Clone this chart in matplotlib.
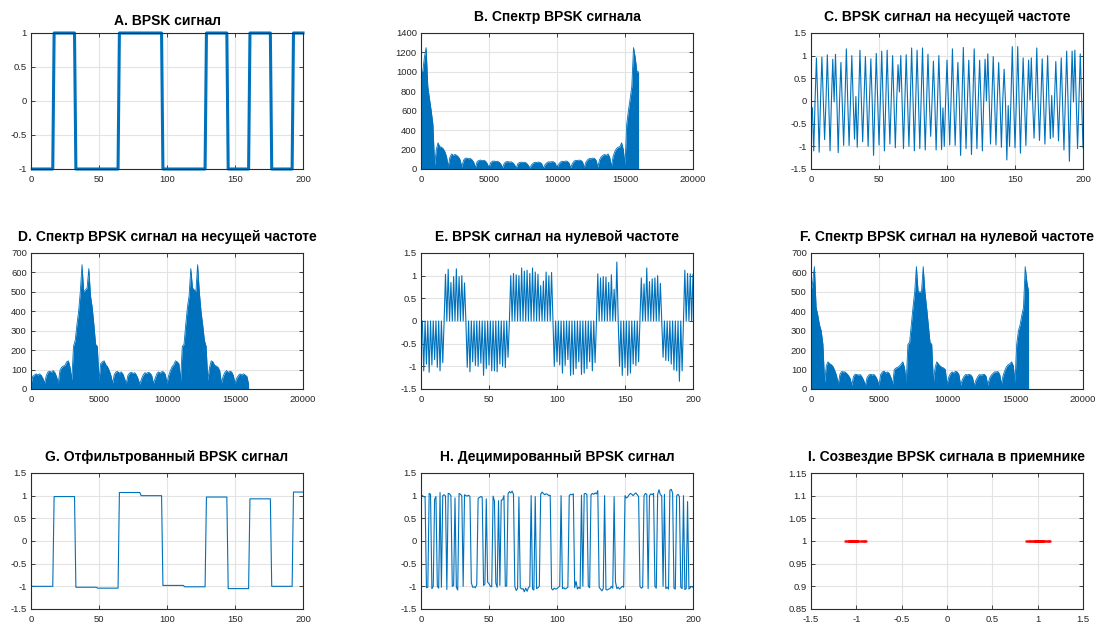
import numpy as np
import matplotlib
matplotlib.use('Agg')
import matplotlib.pyplot as plt
from matplotlib.ticker import FuncFormatter

plt.rcParams['font.family'] = ['Liberation Sans', 'DejaVu Sans']
plt.rcParams['axes.unicode_minus'] = False

BLUE = '#0072BD'

# ---- data ----
# transmitted bits, 16 samples per bit
bits = [-1, 1, -1, -1, 1, 1, -1, -1, 1, -1, 1, -1, 1]
spb = 16

# filtered signal, level per bit
g_levels = [-1.0, 0.98, -1.02, -1.04, 1.07, 1.0, -0.98, -1.01, 0.97, -1.05, 0.93, -1.0, 1.08]

# carrier signal, even samples n=2,4,...,200
c_peaks = [-1.10, 0.95, -1.13, 0.97, -0.85, 1.02, -1.10, 0.92,
           1.03, -1.14, 0.85, -0.98, 1.15, -0.98, 1.00, -0.84,
           -1.02, 1.12, -0.90, 0.98, -1.00, 0.93, -1.20, 1.05,
           -0.97, 1.10, -1.10, 1.12, -0.95, 1.00, -1.03, 0.80,
           1.00, -1.05, 1.02, -1.00, 1.17, -1.10, 1.12, -1.05,
           1.17, -1.08, 1.03, -0.78, 0.88, -1.08, 1.00, -1.07,
           -1.00, 0.90, -0.97, 1.15, -0.98, 0.85, -1.20, 1.18,
           -1.05, 0.90, -1.18, 1.15, -1.05, 0.90, -1.10, 0.92,
           1.04, -0.95, 0.98, -0.97, 0.85, -1.02, 0.70, -1.30,
           -1.00, 1.20, -1.03, 1.20, -1.15, 0.95, -0.98, 0.90,
           0.95, -0.82, 1.17, -0.87, 0.93, -0.95, 1.00, -0.83,
           -0.80, 0.87, -0.88, 0.95, -1.08, 1.10, -1.33, 1.10,
           1.12, -1.05, 1.04, -1.03]
# carrier signal, odd samples n=1,3,...,199
c_odd = [-0.15, 0.02, -0.03, 0.01, 0.04, -0.02, 0.03, -0.01,
         -0.02, 0.03, 0.01, -0.04, 0.02, 0.00, -0.03, 0.02,
         0.10, -0.02, 0.03, 0.01, -0.03, 0.02, 0.00, -0.02,
         0.03, -0.01, 0.02, -0.03, 0.01, 0.02, -0.02, 0.01,
         0.20, -0.01, 0.02, -0.03, 0.01, 0.03, -0.02, 0.00,
         0.02, -0.03, 0.01, 0.02, -0.01, 0.03, -0.02, 0.01,
         -0.15, 0.02, -0.01, 0.03, -0.02, 0.01, 0.02, -0.03,
         0.01, -0.02, 0.03, 0.00, -0.01, 0.02, -0.03, 0.01,
         0.00, 0.02, -0.02, 0.01, 0.03, -0.01, 0.02, -0.03,
         -0.10, 0.01, 0.02, -0.02, 0.03, -0.01, 0.00, 0.02,
         0.02, -0.03, 0.01, 0.02, -0.02, 0.01, 0.03, -0.01,
         0.12, -0.02, 0.01, 0.03, -0.03, 0.02, -0.01, 0.01,
         -0.02, 0.03, -0.01, 0.02]
# signal moved to zero frequency, even samples (odd samples are zero)
e_peaks = [-1.10, -0.95, -1.13, -0.97, -0.85, -1.02, -1.10, -0.92,
           1.03, 1.14, 0.85, 0.98, 1.15, 0.98, 1.00, 0.84,
           -1.02, -1.12, -0.90, -0.98, -1.00, -0.93, -1.20, -1.05,
           -0.97, -1.10, -1.10, -1.12, -0.95, -1.00, -1.03, -0.80,
           1.00, 1.05, 1.02, 1.00, 1.17, 1.10, 1.12, 1.05,
           1.17, 1.08, 1.03, 0.78, 0.88, 1.08, 1.00, 1.07,
           -1.00, -0.90, -0.97, -1.15, -0.98, -0.85, -1.20, -1.18,
           -1.05, -0.90, -1.18, -1.15, -1.05, -0.90, -1.10, -0.92,
           1.04, 0.95, 0.98, 0.97, 0.85, 1.02, 0.70, 1.30,
           -1.00, -1.20, -1.03, -1.20, -1.15, -0.95, -0.98, -0.90,
           0.95, 0.82, 1.17, 0.87, 0.93, 0.95, 1.00, 0.83,
           -0.80, -0.87, -0.88, -0.95, -1.08, -1.10, -1.33, -1.10,
           1.12, 1.05, 1.04, 1.03]

# decimated signal (200 symbols)
h_vals = [1.00, 0.98, 0.97, -1.03, -1.02, 1.05, 1.03, -1.05, -1.00, 0.92,
          0.98, -1.00, -1.04, 1.07, -1.02, 1.00, 1.02, 0.99, -1.07, 1.05,
          1.04, 1.00, -1.00, -0.98, 0.95, -1.02, -1.08, 1.05, 1.03, 1.00,
          -1.00, 1.02, 1.00, 0.99, 1.01, 0.98, -0.92, -1.02, -1.01, -1.03,
          -0.96, 0.94, 0.96, 0.98, 0.97, -0.98, -0.95, 0.93, -0.91, -0.94,
          -1.00, -1.01, 0.99, 0.88, -0.93, -1.02, 0.89, -0.98, 0.90, 0.91,
          1.00, -1.00, -0.99, 1.04, 1.09, 1.06, 1.10, 1.03, -1.00, -1.09,
          -1.05, 0.97, -1.03, -1.06, -1.05, -1.12, -1.04, -1.11, -1.03, -1.00,
          1.00, -1.06, -1.08, 0.98, -1.05, -1.03, -1.00, 1.03, 1.08, 1.05,
          1.02, 1.04, 1.03, 1.00, 1.01, -1.05, -1.08, -1.04, -1.06, -1.05,
          -1.02, -1.00, 1.00, -1.05, -1.03, -1.06, -1.04, -1.02, 1.00, 1.03,
          1.02, 1.04, -1.03, -0.89, -1.06, -1.02, -1.05, 1.01, -1.00, 1.04,
          1.05, 1.02, -1.00, -1.03, 1.02, 1.05, 1.03, 1.06, 1.04, 1.11,
          -1.02, -1.06, -1.10, -1.05, 1.00, -1.07, -1.08, -1.06, -1.05, -1.00,
          -1.04, 0.98, -0.90, -1.05, -1.02, -1.06, -1.03, -1.00, -1.02, 1.00,
          0.95, 0.97, 1.02, 1.05, 1.03, 1.00, 1.04, 1.06, 1.02, 0.98,
          -1.00, -1.04, -1.02, 1.00, 1.05, 1.03, -1.05, 1.00, 1.04, 1.02,
          1.05, -1.00, -1.04, 1.03, 1.13, 1.02, 1.00, -1.00, 1.03, -1.05,
          -1.02, -1.06, 1.12, 1.14, 1.06, -1.04, -1.06, 1.00, 1.03, 0.98,
          -1.02, -1.05, 1.00, -1.07, -1.05, 0.87, -1.06, -1.03, -1.00, -1.02]

# spectrum envelopes, bins 0..8000 step 125 (spectra are mirror symmetric about 8000)
spec_step = 125
spec_b = [1000, 1000, 1150, 1250, 850, 720, 600, 460, 40,
          200, 270, 230, 225, 210, 180, 130, 25,
          120, 155, 140, 150, 140, 125, 95, 20,
          90, 110, 112, 105, 108, 95, 70, 15,
          75, 88, 92, 86, 90, 80, 55, 12,
          65, 80, 82, 76, 80, 70, 50, 12,
          60, 74, 76, 72, 74, 64, 45, 10,
          55, 68, 71, 67, 70, 60, 42, 10]
spec_d = [25, 65, 72, 78, 72, 78, 70, 55, 30,
          70, 88, 92, 85, 95, 85, 65, 30,
          95, 112, 118, 122, 140, 145, 110, 45,
          220, 250, 330, 400, 500, 640, 500, 510,
          520, 620, 480, 420, 330, 230, 220, 45,
          130, 140, 145, 125, 115, 95, 70, 30,
          75, 88, 90, 82, 88, 78, 55, 28,
          70, 82, 86, 80, 84, 72, 52, 25]
spec_f = [500, 550, 630, 420, 380, 330, 300, 230, 35,
          120, 140, 130, 125, 115, 95, 70, 25,
          75, 90, 88, 88, 80, 70, 55, 20,
          65, 76, 74, 72, 74, 62, 45, 18,
          60, 72, 76, 72, 75, 65, 48, 20,
          75, 88, 92, 82, 88, 80, 60, 25,
          100, 108, 112, 118, 128, 140, 110, 35,
          230, 240, 330, 420, 500, 630, 500, 500]


# ---- build signals ----
n = np.arange(1, 201)
sig_a = np.repeat(bits, spb)[:200]
sig_g = np.repeat(g_levels, spb)[:200]
sig_c = np.zeros(200)
sig_c[1::2] = c_peaks
sig_c[0::2] = c_odd
sig_e = np.zeros(200)
sig_e[1::2] = e_peaks
sig_h = np.array(h_vals)


def full_spec(half):
    half = np.array(half, dtype=float)
    xh = np.arange(len(half)) * spec_step
    x = np.concatenate([xh, 2 * xh[-1] - xh[::-1][1:]])
    y = np.concatenate([half, half[::-1][1:]])
    return x, y


W, H = 1110, 624
fig = plt.figure(figsize=(W / 100, H / 100), dpi=100)
cols = [31, 421, 811]
rows = [33, 253, 473]
fmt = FuncFormatter(lambda v, p: '{:g}'.format(round(v, 6)))


def make_ax(col, row, title, xlim, xticks, ylim, yticks, pad=8.5):
    ax = fig.add_axes([cols[col] / W, 1 - (rows[row] + 136) / H, 272 / W, 136 / H])
    ax.set_xlim(xlim)
    ax.set_ylim(ylim)
    ax.set_xticks(xticks)
    ax.set_yticks(yticks)
    ax.xaxis.set_major_formatter(fmt)
    ax.yaxis.set_major_formatter(fmt)
    ax.grid(True, color='#e3e3e3', lw=0.8)
    ax.set_axisbelow(True)
    ax.tick_params(direction='in', length=3, width=0.6, colors='#262626',
                   labelsize=6.8, top=True, right=True)
    ax.tick_params(axis='x', pad=4.5)
    ax.tick_params(axis='y', pad=3)
    for s in ax.spines.values():
        s.set_color('#2b2b2b')
        s.set_linewidth(0.8)
    ax.set_title(title, fontsize=10, fontweight='bold', pad=pad)
    return ax


t200 = [0, 50, 100, 150, 200]
y15 = [-1.5, -1, -0.5, 0, 0.5, 1, 1.5]
f20k = [0, 5000, 10000, 15000, 20000]

# A
ax = make_ax(0, 0, 'A. BPSK сигнал', (0, 200), t200, (-1, 1), [-1, -0.5, 0, 0.5, 1], pad=6)
ax.plot(n, sig_a, color=BLUE, lw=2.2, clip_on=False)

# B
ax = make_ax(1, 0, 'B. Спектр BPSK сигнала', (0, 20000), f20k, (0, 1400), list(range(0, 1401, 200)))
x, y = full_spec(spec_b)
ax.fill_between(x, 0, y, color=BLUE, lw=0)
ax.plot(x, y, color=BLUE, lw=0.6)

# C
ax = make_ax(2, 0, 'C. BPSK сигнал на несущей частоте', (0, 200), t200, (-1.5, 1.5), y15)
ax.plot(n, sig_c, color=BLUE, lw=0.8)

# D
ax = make_ax(0, 1, 'D. Спектр BPSK сигнал на несущей частоте', (0, 20000), f20k, (0, 700), list(range(0, 701, 100)))
x, y = full_spec(spec_d)
ax.fill_between(x, 0, y, color=BLUE, lw=0)
ax.plot(x, y, color=BLUE, lw=0.6)

# E
ax = make_ax(1, 1, 'E. BPSK сигнал на нулевой частоте', (0, 200), t200, (-1.5, 1.5), y15)
ax.plot(n, sig_e, color=BLUE, lw=0.8)

# F
ax = make_ax(2, 1, 'F. Спектр BPSK сигнал на нулевой частоте', (0, 20000), f20k, (0, 700), list(range(0, 701, 100)))
x, y = full_spec(spec_f)
ax.fill_between(x, 0, y, color=BLUE, lw=0)
ax.plot(x, y, color=BLUE, lw=0.6)

# G
ax = make_ax(0, 2, 'G. Отфильтрованный BPSK сигнал', (0, 200), t200, (-1.5, 1.5), y15)
ax.plot(n, sig_g, color=BLUE, lw=0.8)

# H
ax = make_ax(1, 2, 'H. Децимированный BPSK сигнал', (0, 200), t200, (-1.5, 1.5), y15)
ax.plot(n, sig_h, color=BLUE, lw=0.8)

# I
ax = make_ax(2, 2, 'I. Созвездие BPSK сигнала в приемнике', (-1.5, 1.5), y15, (0.85, 1.15),
             [0.85, 0.9, 0.95, 1, 1.05, 1.1, 1.15])
ax.plot(sig_h, np.ones_like(sig_h), 's', color='red', ms=1.6, mec='none')

fig.savefig('out.png', dpi=100)
